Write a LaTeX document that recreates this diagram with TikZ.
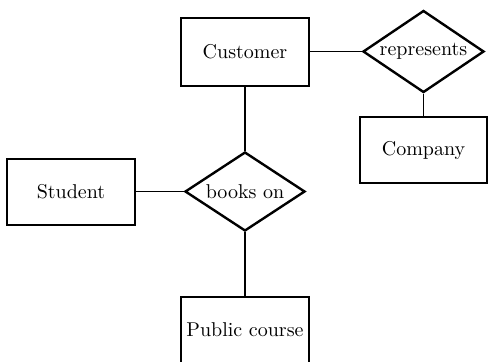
\documentclass[tikz,border=0pt]{standalone}
\usetikzlibrary{shapes.geometric}
\begin{document}
\begin{tikzpicture}[x=0.5pt,y=-0.5pt,
    ent/.style={draw,line width=1pt,minimum width=64pt,minimum height=33pt,inner sep=0pt},
    rel/.style={draw,diamond,line width=1.2pt,inner sep=0pt}]
            \useasboundingbox (0,0) rectangle (488,361);
            %\draw[gray!30] (0,0) grid[step=50] (488,361);
            \node[ent,minimum height=34pt] (customer) at (245,51.5) {Customer};
            \node[rel,aspect=1.48,minimum width=60.5pt,minimum height=41pt] (represents) at (423.5,51.5) {represents};
            \node[ent,minimum width=63.5pt] (company) at (423.5,150) {Company};
            \node[ent] (student) at (71,191.5) {Student};
            \node[rel,aspect=1.52,minimum width=60pt,minimum height=39.5pt] (bookson) at (245,191.5) {books on};
            \node[ent] (public) at (245,330) {Public course};
            \draw[line width=0.6pt] (customer.east) -- (represents.west);
            \draw[line width=0.6pt] (represents.south) -- (company.north);
            \draw[line width=0.6pt] (customer.south) -- (bookson.north);
            \draw[line width=0.6pt] (student.east) -- (bookson.west);
            \draw[line width=0.6pt] (bookson.south) -- (public.north);
        \end{tikzpicture}
\end{document}
